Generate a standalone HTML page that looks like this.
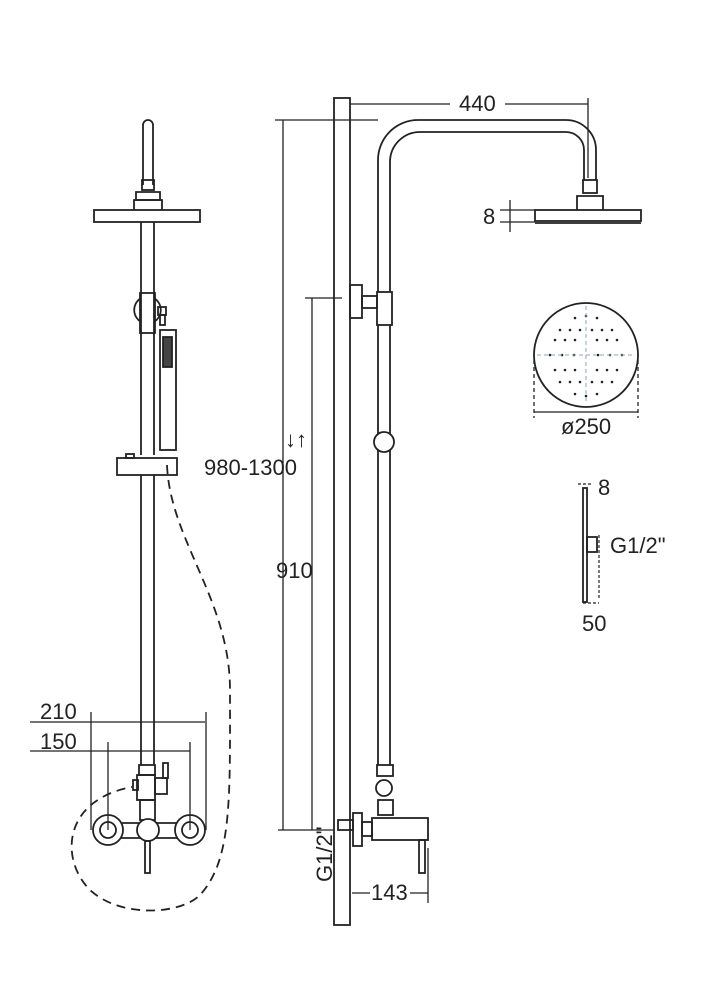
<!DOCTYPE html>
<html><head><meta charset="utf-8"><style>
html,body{margin:0;padding:0;background:#fff}
svg{display:block}
text{font-family:"Liberation Sans Narrow","Liberation Sans",sans-serif;font-size:22px;fill:#222}
</style></head><body>
<svg width="727" height="1000" viewBox="0 0 727 1000" xmlns="http://www.w3.org/2000/svg">
<g fill="none" stroke="#222" stroke-width="1.8">
<!-- LEFT VIEW -->
<path d="M143,185 V125 a5,5 0 0 1 10,0 V185"/>
<rect x="142" y="180" width="12" height="10"/>
<path d="M136,200 V192 H160 V200 Z"/>
<rect x="94" y="210" width="106" height="12"/>
<path d="M134,210 V200 H162 V210"/>
<line x1="141" y1="222" x2="141" y2="455"/>
<line x1="154" y1="222" x2="154" y2="455"/>
<path d="M141,298 a14,14 0 0 0 0,24 M154,298 a14,14 0 0 1 0,24"/>
<rect x="140" y="293" width="15" height="40"/>
<rect x="158" y="307" width="8" height="8"/>
<rect x="160" y="315" width="5" height="10"/>
<rect x="160" y="330" width="16" height="120"/>
<rect x="163" y="337" width="9" height="30" fill="#444"/>
<rect x="117" y="458" width="60" height="17"/>
<rect x="126" y="454" width="8" height="4"/>
<line x1="141" y1="475" x2="141" y2="765"/>
<line x1="154" y1="475" x2="154" y2="765"/>
<rect x="139" y="765" width="16" height="10"/>
<rect x="137" y="775" width="18" height="25"/>
<rect x="133" y="780" width="5" height="10"/>
<rect x="155" y="778" width="12" height="16"/>
<rect x="163" y="763" width="5" height="15"/>
<rect x="140" y="800" width="15" height="20"/>
<line x1="118" y1="823" x2="181" y2="823"/>
<line x1="118" y1="838" x2="181" y2="838"/>
<circle cx="108" cy="830" r="15" fill="#fff"/>
<circle cx="108" cy="830" r="8"/>
<circle cx="190" cy="830" r="15" fill="#fff"/>
<circle cx="190" cy="830" r="8"/>
<circle cx="148" cy="830" r="11" fill="#fff"/>
<rect x="145" y="841" width="5" height="32"/>
<g stroke-width="1.3">
<line x1="30" y1="722" x2="205" y2="722"/>
<line x1="91" y1="712" x2="91" y2="830"/>
<line x1="206" y1="712" x2="206" y2="830"/>
<line x1="30" y1="751" x2="190" y2="751"/>
<line x1="108" y1="742" x2="108" y2="830"/>
<line x1="190" y1="742" x2="190" y2="830"/>
</g>
<path stroke-dasharray="9,6" d="M167,465 C170,540 230,600 230,690 C230,800 232,860 200,895 C180,915 120,918 90,890 C60,860 62,800 132,787"/>
<!-- RIGHT VIEW -->
<rect x="334" y="98" width="16" height="827"/>
<g stroke-width="1.3">
<line x1="275" y1="120" x2="378" y2="120"/>
<line x1="283" y1="120" x2="283" y2="830"/>
<line x1="305" y1="298" x2="342" y2="298"/>
<line x1="312" y1="298" x2="312" y2="830"/>
<line x1="278" y1="830" x2="334" y2="830"/>
<line x1="350" y1="104" x2="450" y2="104"/>
<line x1="505" y1="104" x2="588" y2="104"/>
<line x1="588" y1="98" x2="588" y2="178"/>
<line x1="500" y1="210" x2="535" y2="210"/>
<line x1="500" y1="222" x2="535" y2="222"/>
<line x1="510" y1="200" x2="510" y2="232"/>
<line x1="428" y1="848" x2="428" y2="903"/>
<line x1="352" y1="893" x2="370" y2="893"/>
<line x1="410" y1="893" x2="428" y2="893"/>
</g>
<path d="M378,292 V160 a40,40 0 0 1 40,-40 H566 a30,30 0 0 1 30,30 V180"/>
<path d="M390,292 V162 a30,30 0 0 1 30,-30 H566 a18,18 0 0 1 18,18 V180"/>
<rect x="583" y="180" width="14" height="13"/>
<path d="M577,210 V196 H603 V210"/>
<rect x="535" y="210" width="106" height="11"/>
<line x1="535" y1="223" x2="641" y2="223"/>
<rect x="350" y="285" width="12" height="33"/>
<rect x="362" y="296" width="15" height="12"/>
<rect x="377" y="292" width="15" height="33"/>
<line x1="378" y1="325" x2="378" y2="765"/>
<line x1="390" y1="325" x2="390" y2="765"/>
<circle cx="384" cy="442" r="10" fill="#fff"/>
<rect x="377" y="765" width="16" height="11"/>
<circle cx="384" cy="788" r="8"/>
<rect x="378" y="800" width="15" height="15"/>
<rect x="372" y="818" width="56" height="22"/>
<rect x="362" y="822" width="10" height="14"/>
<rect x="353" y="813" width="9" height="33"/>
<rect x="338" y="820" width="15" height="10"/>
<rect x="419" y="840" width="6" height="33"/>
<!-- round head plan -->
<circle cx="586" cy="355" r="52"/>
<g fill="#222" stroke="none">
<circle cx="560" cy="330" r="1.3"/><circle cx="570" cy="330" r="1.3"/><circle cx="580" cy="330" r="1.3"/><circle cx="592" cy="330" r="1.3"/><circle cx="602" cy="330" r="1.3"/><circle cx="612" cy="330" r="1.3"/>
<circle cx="555" cy="340" r="1.3"/><circle cx="565" cy="340" r="1.3"/><circle cx="575" cy="340" r="1.3"/><circle cx="597" cy="340" r="1.3"/><circle cx="607" cy="340" r="1.3"/><circle cx="617" cy="340" r="1.3"/>
<circle cx="550" cy="355" r="1.3"/><circle cx="562" cy="355" r="1.3"/><circle cx="574" cy="355" r="1.3"/><circle cx="598" cy="355" r="1.3"/><circle cx="610" cy="355" r="1.3"/><circle cx="622" cy="355" r="1.3"/>
<circle cx="555" cy="370" r="1.3"/><circle cx="565" cy="370" r="1.3"/><circle cx="575" cy="370" r="1.3"/><circle cx="597" cy="370" r="1.3"/><circle cx="607" cy="370" r="1.3"/><circle cx="617" cy="370" r="1.3"/>
<circle cx="560" cy="382" r="1.3"/><circle cx="570" cy="382" r="1.3"/><circle cx="580" cy="382" r="1.3"/><circle cx="592" cy="382" r="1.3"/><circle cx="602" cy="382" r="1.3"/><circle cx="612" cy="382" r="1.3"/>
<circle cx="575" cy="318" r="1.3"/><circle cx="586" cy="316" r="1.3"/><circle cx="597" cy="318" r="1.3"/><circle cx="575" cy="394" r="1.3"/><circle cx="586" cy="396" r="1.3"/><circle cx="597" cy="394" r="1.3"/>
</g>
<line x1="586" y1="306" x2="586" y2="404" stroke="#8ab" stroke-dasharray="4,3" stroke-width="1"/>
<line x1="537" y1="355" x2="635" y2="355" stroke="#8ab" stroke-dasharray="4,3" stroke-width="1"/>
<path stroke-width="1.3" stroke-dasharray="4,3" d="M534,360 V418 M638,360 V418"/>
<line stroke-width="1.3" x1="534" y1="412" x2="638" y2="412"/>
<rect x="583" y="488" width="4" height="114"/>
<rect x="587" y="537" width="10" height="15"/>
<path stroke-width="1.2" stroke-dasharray="3,2" d="M578,484 H592 M599,535 V600 M583,603 H599"/>
</g>
<text x="459" y="111">440</text>
<text x="483" y="224">8</text>
<text x="561" y="434">ø250</text>
<text x="598" y="495" font-size="20">8</text>
<text x="610" y="553" font-size="20">G1/2"</text>
<text x="582" y="631" font-size="20">50</text>
<text x="285" y="447" font-size="12">↓↑</text>
<text x="204" y="475" font-size="23">980-1300</text>
<text x="276" y="578" font-size="23">910</text>
<text x="371" y="900">143</text>
<text x="40" y="719">210</text>
<text x="40" y="749">150</text>
<text transform="translate(332,882) rotate(-90)">G1/2"</text>
</svg>
</body></html>
